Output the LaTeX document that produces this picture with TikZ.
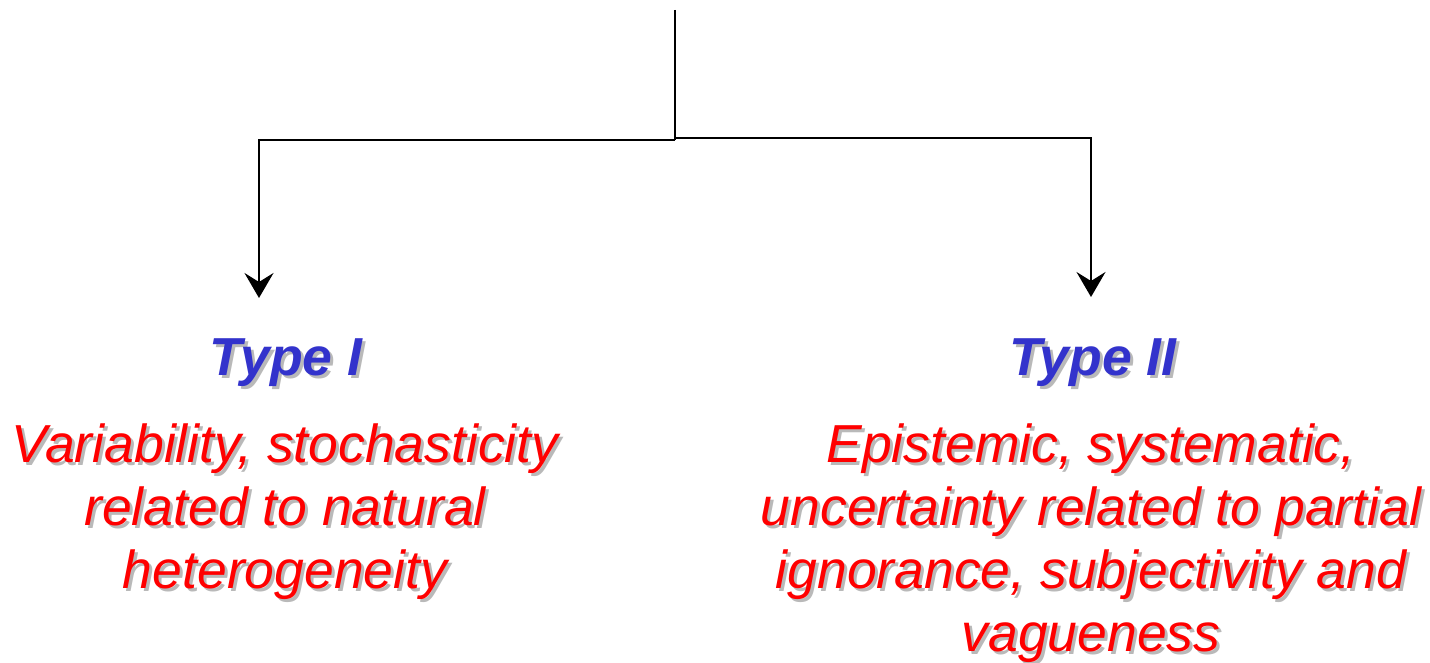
\documentclass[tikz,border=0pt]{standalone}
\usepackage{fontspec}
\setmainfont{Liberation Sans}
\usetikzlibrary{arrows.meta}
\definecolor{typeblue}{RGB}{51,51,204}
\definecolor{shadowgray}{RGB}{185,185,185}
\newcommand\shtx[1]{\makebox[0pt][l]{\kern3pt\raisebox{-3pt}{\color{shadowgray}#1}}#1}
\begin{document}
\begin{tikzpicture}[x=1pt,y=-1pt,
  lbl/.style={anchor=base, inner sep=0pt},
  head/.style={lbl, font=\fontsize{53.5}{63}\selectfont\bfseries\itshape, text=typeblue},
  body/.style={lbl, font=\fontsize{53.5}{63}\selectfont\itshape, text=red},
  conn/.style={line width=2pt, line join=miter, draw=black},
  arr/.style={conn, -{Stealth[length=25pt, width=29pt, inset=9pt]}}]
\useasboundingbox (0,0) rectangle (1430,663);
% connectors
\coordinate (top) at (675,10);
\coordinate (jl) at (675,140);
\coordinate (jr) at (675,138);
\coordinate (ltip) at (259,298);
\coordinate (rtip) at (1091,297);
\draw[conn] (top) -- (jl);
\draw[arr] (jl) -| (ltip);
\draw[arr] (jr) -| (rtip);
% left
\node[head] (t1) at (286,375) {\shtx{Type I}};
\node[body] (l1) at (285,462) {\shtx{Variability, stochasticity}};
\node[body] (l2) at (285,525) {\shtx{related to natural}};
\node[body] (l3) at (285,588) {\shtx{heterogeneity}};
% right
\node[head] (t2) at (1093,375) {\shtx{Type II}};
\node[body] (r1) at (1091,462) {\shtx{Epistemic, systematic,}};
\node[body] (r2) at (1091,525) {\shtx{uncertainty related to partial}};
\node[body] (r3) at (1091,588) {\shtx{ignorance, subjectivity and}};
\node[body] (r4) at (1091,651) {\shtx{vagueness}};
\end{tikzpicture}
\end{document}
